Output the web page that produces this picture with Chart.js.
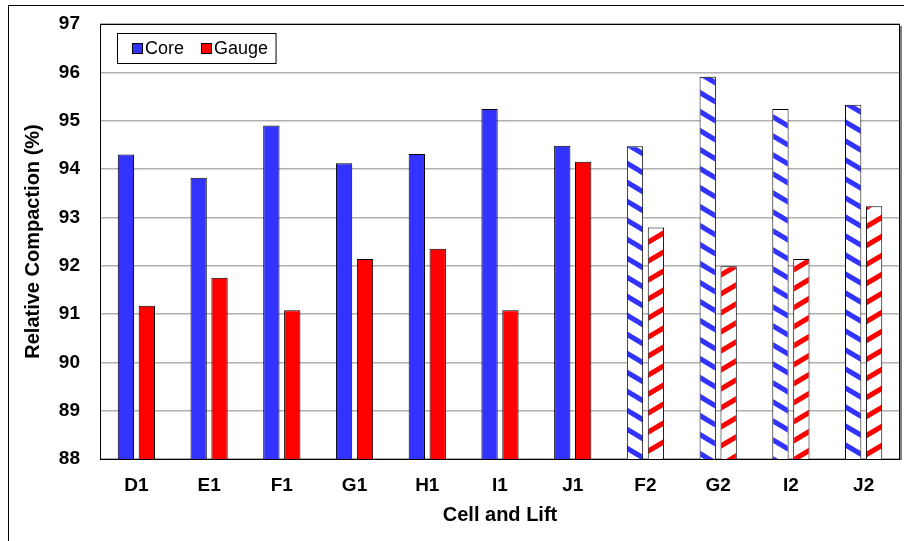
<!DOCTYPE html>
<html>
<head>
<meta charset="utf-8">
<script src="https://cdn.jsdelivr.net/npm/chart.js@4.4.0/dist/chart.umd.min.js"></script>
<style>
  html, body { margin: 0; padding: 0; background: #fff; }
  #wrap { width: 904px; height: 541px; }
</style>
</head>
<body>
<div id="wrap"><canvas id="c" width="904" height="541"></canvas></div>
<script>
// ---- Data ----
const categories = ['D1', 'E1', 'F1', 'G1', 'H1', 'I1', 'J1', 'F2', 'G2', 'I2', 'J2'];
const coreValues = [94.30, 93.82, 94.90, 94.12, 94.31, 95.24, 94.48, 94.47, 95.91, 95.24, 95.33];
const gaugeValues = [91.17, 91.75, 91.08, 92.14, 92.35, 91.08, 94.15, 92.79, 91.99, 92.14, 93.23];
const seriesLabels = ['Core', 'Gauge'];
const yTicks = [88, 89, 90, 91, 92, 93, 94, 95, 96, 97];
const xTitle = 'Cell and Lift';
const yTitle = 'Relative Compaction (%)';

// ---- Styles ----
const FONT = '"Liberation Sans", Arial, Helvetica, sans-serif';
const BLUE = '#3333FF';
const RED = '#FF0000';

function makePattern(color, dir) {
  const w = 32, h = 19;
  const c = document.createElement('canvas');
  c.width = w; c.height = h;
  const g = c.getContext('2d');
  g.fillStyle = '#ffffff';
  g.fillRect(0, 0, w, h);
  g.strokeStyle = color;
  g.lineWidth = 5;
  for (let k = -1; k <= 1; k++) {
    g.beginPath();
    if (dir > 0) { g.moveTo(-2, k * h - 1.2); g.lineTo(w + 2, k * h + h + 1.2); }
    else { g.moveTo(-2, k * h + h + 1.2); g.lineTo(w + 2, k * h - 1.2); }
    g.stroke();
  }
  return g.createPattern(c, 'repeat');
}
const bluePattern = makePattern(BLUE, 1);
const redPattern = makePattern(RED, -1);
const isSecondLift = categories.map(c => c.endsWith('2'));

const frameAndLegend = {
  id: 'frameAndLegend',
  beforeDraw(chart) {
    const ctx = chart.ctx;
    ctx.save();
    ctx.fillStyle = '#fff';
    ctx.fillRect(0, 0, chart.width, chart.height);
    ctx.restore();
  },
  afterDraw(chart) {
    const ctx = chart.ctx;
    const a = chart.chartArea;
    ctx.save();
    // outer frame
    ctx.strokeStyle = '#000';
    ctx.lineWidth = 1;
    ctx.strokeRect(8.5, 5.5, chart.width + 10, chart.height + 10);
    // plot shadow
    ctx.strokeStyle = '#808080';
    ctx.lineWidth = 2;
    ctx.beginPath();
    ctx.moveTo(a.right + 1, a.top + 2);
    ctx.lineTo(a.right + 1, a.bottom + 1);
    ctx.stroke();
    // plot border
    ctx.strokeStyle = '#000';
    ctx.lineWidth = 1;
    ctx.strokeRect(Math.round(a.left) + 0.5, Math.round(a.top) + 0.5,
                   Math.round(a.right - a.left) - 1, Math.round(a.bottom - a.top));
    // legend
    const lx = 117.5, ly = 33.5, lh = 30;
    ctx.font = '18px ' + FONT;
    ctx.textBaseline = 'middle';
    ctx.textAlign = 'left';
    const items = chart.data.datasets.map(d => ({ label: d.label, color: d.legendColor }));
    let x = lx + 14.5;
    const pos = [];
    items.forEach((it, i) => {
      pos.push(x);
      x += 13 + ctx.measureText(it.label).width + (i < items.length - 1 ? 17 : 8);
    });
    const lw = x - lx;
    ctx.fillStyle = '#fff';
    ctx.fillRect(lx, ly, lw, lh);
    ctx.strokeStyle = '#000';
    ctx.strokeRect(lx, ly, lw, lh);
    items.forEach((it, i) => {
      const sx = Math.round(pos[i]);
      ctx.fillStyle = it.color;
      ctx.fillRect(sx, ly + 9.5, 11, 11);
      ctx.strokeStyle = '#000';
      ctx.strokeRect(sx + 0.5, ly + 10, 10, 10);
      ctx.fillStyle = '#000';
      ctx.fillText(it.label, sx + 13, ly + lh / 2 + 0.5);
    });
    ctx.restore();
  }
};

new Chart(document.getElementById('c'), {
  type: 'bar',
  data: {
    labels: categories,
    datasets: [
      {
        label: seriesLabels[0],
        data: coreValues,
        legendColor: BLUE,
        backgroundColor: categories.map((c, i) => isSecondLift[i] ? bluePattern : BLUE),
        borderColor: '#000',
        borderWidth: 1,
        categoryPercentage: 0.575,
        barPercentage: 0.78
      },
      {
        label: seriesLabels[1],
        data: gaugeValues,
        legendColor: RED,
        backgroundColor: categories.map((c, i) => isSecondLift[i] ? redPattern : RED),
        borderColor: '#000',
        borderWidth: 1,
        categoryPercentage: 0.575,
        barPercentage: 0.78
      }
    ]
  },
  options: {
    responsive: false,
    animation: false,
    devicePixelRatio: 1,
    layout: { padding: { left: 0, top: 24, right: 4, bottom: 14 } },
    plugins: {
      legend: { display: false },
      tooltip: { enabled: false }
    },
    scales: {
      x: {
        grid: { display: false, drawTicks: false },
        border: { display: false },
        ticks: {
          color: '#000',
          padding: 15,
          maxRotation: 0,
          font: { family: FONT, size: 19, weight: 'bold' }
        },
        title: {
          display: true,
          text: xTitle,
          color: '#000',
          padding: { top: 0, bottom: 0 },
          font: { family: FONT, size: 20, weight: 'bold' }
        },
        afterFit(scale) { scale.height = 541 - 459 - 14; }
      },
      y: {
        min: yTicks[0],
        max: yTicks[yTicks.length - 1],
        afterBuildTicks(scale) { scale.ticks = yTicks.map(v => ({ value: v })); },
        grid: {
          drawTicks: false,
          color: '#b0b0b0',
          lineWidth: 1.5
        },
        border: { display: false },
        ticks: {
          color: '#000',
          padding: 20,
          font: { family: FONT, size: 19, weight: 'bold' }
        },
        title: {
          display: true,
          text: yTitle,
          color: '#000',
          padding: { top: 21, bottom: 0 },
          font: { family: FONT, size: 20, weight: 'bold' }
        },
        afterFit(scale) {
          scale.width = 100;
          scale.paddingTop = 0;
          scale.paddingBottom = 0;
        }
      }
    }
  },
  plugins: [frameAndLegend]
});
</script>
</body>
</html>
